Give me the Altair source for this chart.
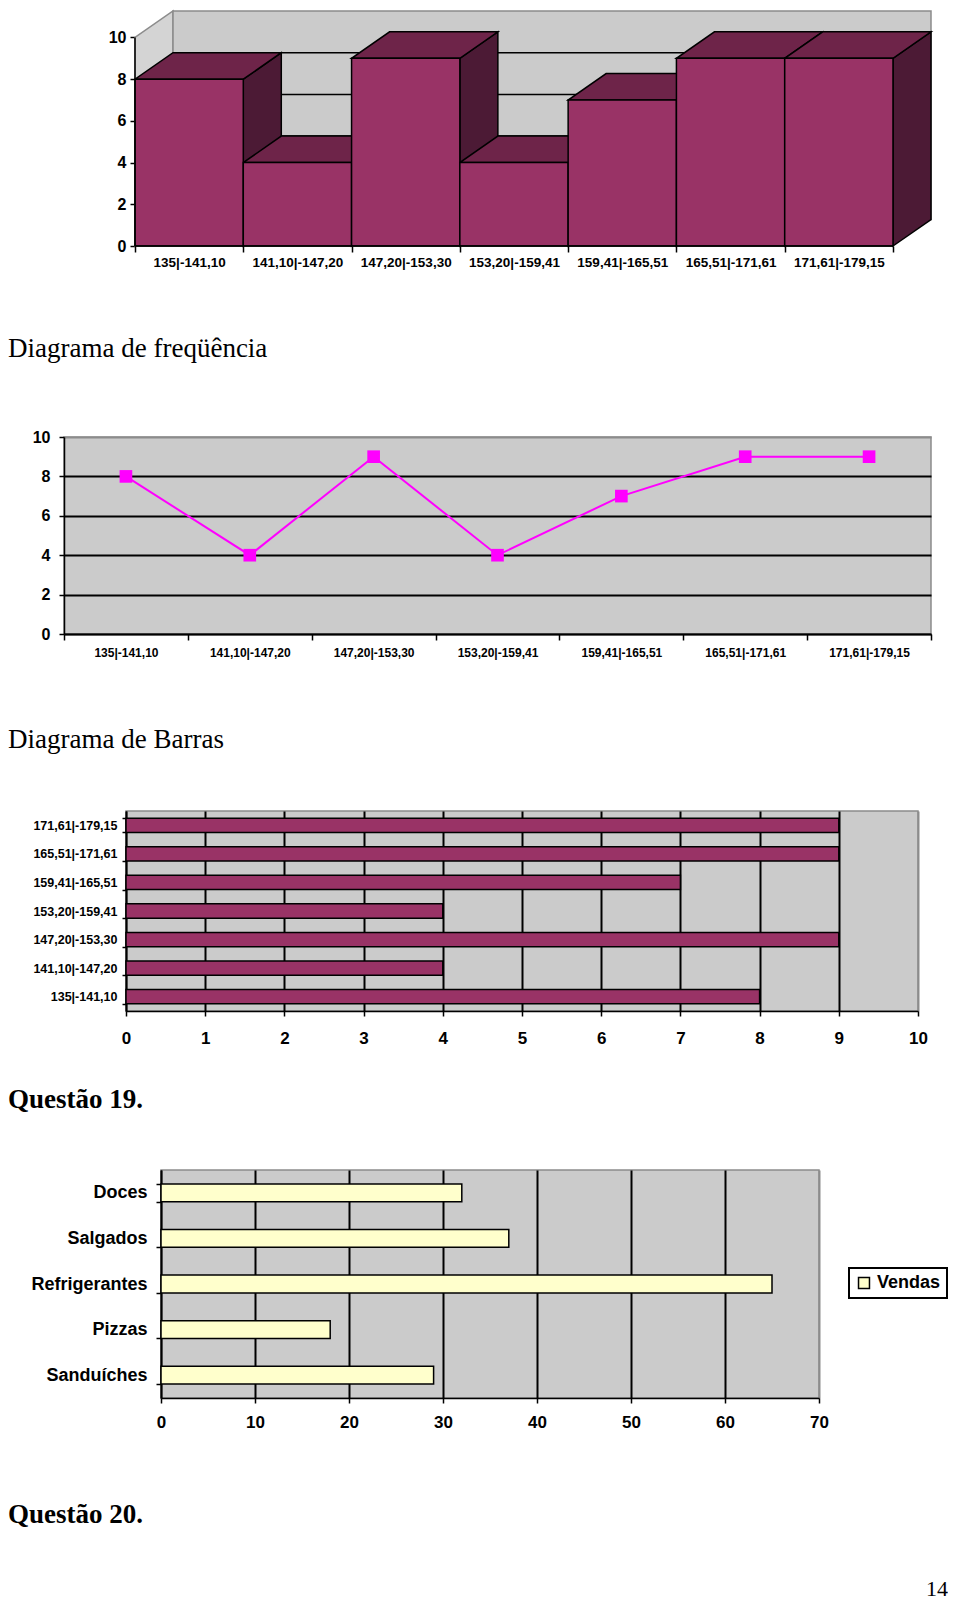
import json
import pandas as pd
import altair as alt

# ---------------- data ----------------
classes = ["135|-141,10", "141,10|-147,20", "147,20|-153,30", "153,20|-159,41",
           "159,41|-165,51", "165,51|-171,61", "171,61|-179,15"]
freq = [8, 4, 9, 4, 7, 9, 9]
freq_ticks = [0, 2, 4, 6, 8, 10]
bar_ticks = [0, 1, 2, 3, 4, 5, 6, 7, 8, 9, 10]

foods = ["Doces", "Salgados", "Refrigerantes", "Pizzas", "Sanduíches"]
vendas = [32, 37, 65, 18, 29]
vendas_ticks = [0, 10, 20, 30, 40, 50, 60, 70]
series_name = "Vendas"

headings = ["Diagrama de freqüência", "Diagrama de Barras", "Questão 19.", "Questão 20."]
page_number = "14"

# ---------------- style ----------------
SANS = "Liberation Sans"
SERIF = "Liberation Serif"
PLUM = "#993366"
PLUM_TOP = "#6e2449"
PLUM_SIDE = "#4c1a35"
WALL = "#cbcbcb"
WALL_LEFT = "#d4d4d4"
EDGE = "#8c8c8c"
CREAM = "#ffffcc"
MAGENTA = "#ff00ff"

lab = dict(labelFont=SANS, labelFontWeight="bold", labelColor="black")
tk = dict(tickColor="black", tickWidth=1.5)
dom = dict(domainColor="black", domainWidth=1.5)


def spacer(w):
    return alt.Chart(pd.DataFrame({"t": [""]})).mark_text(
        baseline="top", align="left", fontSize=1).encode(
        text="t:N", x=alt.value(0), y=alt.value(0)).properties(width=w, height=1)


# ---------------- chart 1 : 3D columns ----------------
n = len(classes)
DX = 0.351          # depth in bands
DY = 1.27           # depth in value units
YMAX = max(freq_ticks)
W1, H1 = 796, 235

front_df = pd.DataFrame({"bar": list(range(n)), "x0": list(range(n)),
                         "x1": [i + 1 for i in range(n)], "y0": [0] * n, "v": freq})
top_rows, side_rows = [], []
for i, h in enumerate(freq):
    top_rows += [dict(bar=i, x=i, lo=h, hi=h),
                 dict(bar=i, x=i + DX, lo=h, hi=h + DY),
                 dict(bar=i, x=i + 1, lo=h, hi=h + DY),
                 dict(bar=i, x=i + 1 + DX, lo=h + DY, hi=h + DY)]
    side_rows += [dict(bar=i, x=i + 1, lo=0, hi=h),
                  dict(bar=i, x=i + 1 + DX, lo=DY, hi=h + DY)]
top_df = pd.DataFrame(top_rows)
side_df = pd.DataFrame(side_rows)
left_wall = pd.DataFrame({"x": [0, DX], "lo": [0, DY], "hi": [YMAX, YMAX + DY]})
back_wall = pd.DataFrame({"x0": [DX], "x1": [n + DX], "y0": [DY], "y1": [YMAX + DY]})
grid_df = pd.DataFrame({"x0": DX, "x1": n + DX,
                        "y": [t + DY for t in freq_ticks if 0 < t < YMAX]})
axis_df = pd.DataFrame({"x0": [0, 0], "x1": [0, n], "y0": [0, 0], "y1": [YMAX, 0]})

xs1 = alt.Scale(domain=[0, n + DX], nice=False, zero=False)
ys1 = alt.Scale(domain=[0, YMAX + DY], nice=False, zero=False)
xax1 = alt.Axis(title=None, values=list(range(n + 1)),
                labelExpr=json.dumps(classes) + "[datum.value] || ''",
                labelOffset=W1 / (n + DX) / 2, labelAlign="center", labelFlush=False,
                labelOverlap=False, labelBound=False, domain=False, grid=False,
                tickSize=6, labelPadding=3, labelFontSize=13.5, **lab, **tk)
yax1 = alt.Axis(title=None, values=freq_ticks, domain=False, grid=False,
                tickSize=5, labelPadding=4, labelFontSize=16, **lab, **tk)


def X1(f):
    return alt.X(f, type="quantitative", scale=xs1, axis=xax1)


def Y1(f):
    return alt.Y(f, type="quantitative", scale=ys1, axis=yax1)


lw = alt.Chart(left_wall).mark_area(orient="vertical", fill=WALL_LEFT, stroke=EDGE,
                                     strokeWidth=1.5).encode(x=X1("x"), y=Y1("lo"), y2="hi")
bw = alt.Chart(back_wall).mark_rect(fill=WALL, stroke=EDGE, strokeWidth=1.5).encode(
    x=X1("x0"), x2="x1", y=Y1("y0"), y2="y1")
gl = alt.Chart(grid_df).mark_rule(color="black", strokeWidth=1.5).encode(
    x=X1("x0"), x2="x1", y=Y1("y"))
sides = alt.Chart(side_df).mark_area(orient="vertical", fill=PLUM_SIDE, stroke="black",
                                      strokeWidth=1.5).encode(x=X1("x"), y=Y1("lo"), y2="hi",
                                                              detail="bar:N")
tops = alt.Chart(top_df).mark_area(orient="vertical", fill=PLUM_TOP, stroke="black",
                                    strokeWidth=1.5).encode(x=X1("x"), y=Y1("lo"), y2="hi",
                                                            detail="bar:N")
fronts = alt.Chart(front_df).mark_rect(fill=PLUM, stroke="black", strokeWidth=1.5).encode(
    x=X1("x0"), x2="x1", y=Y1("y0"), y2="v")
axl = alt.Chart(axis_df).mark_rule(color="black", strokeWidth=1.5).encode(
    x=X1("x0"), x2="x1", y=Y1("y0"), y2="y1")

chart1 = alt.layer(lw, bw, gl, sides, tops, fronts, axl).properties(width=W1, height=H1)

# ---------------- chart 2 : line ----------------
c2 = alt.Chart(pd.DataFrame({"cls": classes, "v": freq}))
x2enc = alt.X("cls:N", sort=classes, bandPosition=0.5,
              scale=alt.Scale(type="band", paddingInner=0, paddingOuter=0),
              axis=alt.Axis(title=None, labelAngle=0, tickBand="extent", tickSize=6,
                            labelPadding=7, labelFontSize=12, **lab, **tk, **dom))
y2enc = alt.Y("v:Q", scale=alt.Scale(domain=[0, YMAX], nice=False),
              axis=alt.Axis(title=None, values=freq_ticks, grid=True,
                            gridColor={"condition": {"test": "datum.value >= 10", "value": EDGE},
                                       "value": "black"},
                            gridWidth=2, tickSize=5, labelPadding=9, labelFontSize=16,
                            **lab, **tk, **dom))
chart2 = alt.layer(
    c2.mark_line(color=MAGENTA, strokeWidth=2).encode(x=x2enc, y=y2enc),
    c2.mark_point(shape="square", size=160, filled=True, color=MAGENTA, opacity=1).encode(
        x=x2enc, y=y2enc),
).properties(width=867, height=197,
             view=alt.ViewBackground(fill=WALL, stroke=EDGE, strokeWidth=1.5))

# ---------------- chart 3 : horizontal bars ----------------
chart3 = alt.Chart(pd.DataFrame({"cls": classes, "v": freq})).mark_bar(
    color=PLUM, stroke="black", strokeWidth=1.5).encode(
    y=alt.Y("cls:N", sort=classes[::-1],
            scale=alt.Scale(paddingInner=0.5, paddingOuter=0.25),
            axis=alt.Axis(title=None, tickBand="extent", tickSize=4, labelPadding=5,
                          labelFontSize=12.5, **lab, **tk, **dom)),
    x=alt.X("v:Q", scale=alt.Scale(domain=[0, max(bar_ticks)], nice=False),
            axis=alt.Axis(title=None, values=bar_ticks, grid=True,
                          gridColor={"condition": {"test": "datum.value >= 10", "value": EDGE},
                                     "value": "black"},
                          gridWidth=2, tickSize=5, labelPadding=14, labelFontSize=17,
                          labelFlush=False, labelOverlap=False, **lab, **tk, **dom)),
).properties(width=792, height=200,
             view=alt.ViewBackground(fill=WALL, stroke=EDGE, strokeWidth=1.5))

# ---------------- chart 4 : vendas ----------------
chart4 = alt.Chart(pd.DataFrame({"food": foods, "v": vendas, "serie": series_name})).mark_bar(
    stroke="black", strokeWidth=1.5).encode(
    y=alt.Y("food:N", sort=foods,
            scale=alt.Scale(paddingInner=0.61, paddingOuter=0.305),
            axis=alt.Axis(title=None, tickBand="extent", tickSize=5, labelPadding=9,
                          labelFontSize=18, **lab, **tk, **dom)),
    x=alt.X("v:Q", scale=alt.Scale(domain=[0, max(vendas_ticks)], nice=False),
            axis=alt.Axis(title=None, values=vendas_ticks, grid=True,
                          gridColor={"condition": {"test": "datum.value >= 70", "value": EDGE},
                                     "value": "black"},
                          gridWidth=2, tickSize=5, labelPadding=11, labelFontSize=17,
                          labelFlush=False, labelOverlap=False, **lab, **tk, **dom)),
    color=alt.Color("serie:N", scale=alt.Scale(domain=[series_name], range=[CREAM]),
                    legend=alt.Legend(title=None, orient="none", legendX=841, legendY=98,
                                      symbolType="square", symbolSize=120,
                                      symbolStrokeColor="black", symbolStrokeWidth=1.5,
                                      labelFont=SANS, labelFontWeight="bold", labelFontSize=18,
                                      labelColor="black", labelOffset=4,
                                      strokeColor="black", padding=6,
                                      fillColor="white")),
).properties(width=658, height=228,
             view=alt.ViewBackground(fill=WALL, stroke=EDGE, strokeWidth=1.5))


# ---------------- headings ----------------
def heading(text, h, base, bold=False):
    return alt.Chart(pd.DataFrame({"t": [text]})).mark_text(
        align="left", baseline="alphabetic", font=SERIF, fontSize=27, color="black",
        fontWeight="bold" if bold else "normal").encode(
        text="t:N", x=alt.value(0), y=alt.value(base)).properties(width=900, height=h)


h1 = heading(headings[0], 159, 88)
h2 = heading(headings[1], 145, 89)
h3 = heading(headings[2], 113, 61, bold=True)
h4a = heading(headings[3], 167, 92, bold=True)
h4b = alt.Chart(pd.DataFrame({"t": [page_number]})).mark_text(
    align="right", baseline="alphabetic", font=SERIF, fontSize=22, color="black").encode(
    text="t:N", x=alt.value(940), y=alt.value(165))
h4 = alt.layer(h4a, h4b).properties(width=940, height=167)

row1 = alt.hconcat(spacer(100), chart1, spacing=0)
row2 = alt.hconcat(spacer(23), chart2, spacing=0)
row3 = alt.hconcat(spacer(24), chart3, spacing=0)
row4 = alt.hconcat(spacer(22), chart4, spacing=0)

chart = alt.vconcat(row1, h1, row2, h2, row3, h3, row4, h4, spacing=0).resolve_scale(
    color="independent").properties(
    padding={"left": 0, "top": 0, "right": 0, "bottom": 0}).configure_view(
    strokeWidth=0).configure_legend(strokeWidth=2)

chart.save("out.html", embed_options={"renderer": "svg", "actions": False})
